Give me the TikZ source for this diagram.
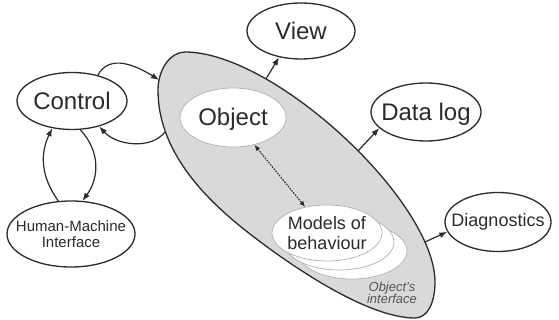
\documentclass[tikz,border=0pt]{standalone}
\usepackage{fontspec}
\setmainfont{Liberation Sans}
\usetikzlibrary{shapes.geometric,arrows.meta}
\definecolor{ink}{HTML}{2B2B2B}
\definecolor{shade}{HTML}{D9D9D9}
\definecolor{rim}{HTML}{B0B0B0}
\definecolor{note}{HTML}{555555}
\begin{document}
\begin{tikzpicture}[x=1pt,y=-1pt,
  oval/.style={ellipse,draw=ink,line width=1.3pt,fill=white,inner sep=0pt},
  inoval/.style={ellipse,draw=rim,line width=0.7pt,fill=white,inner sep=0pt},
  big/.style={label={[font=\fontsize{24}{26}\selectfont,text=ink,text height=17pt,text depth=0pt]center:#1}},
  mid/.style={label={[font=\fontsize{18}{20}\selectfont,text=ink,align=center]center:#1}},
  small/.style={label={[font=\fontsize{15}{16.5}\selectfont,text=ink,align=center]center:#1}},
  conn/.style={draw=ink,line width=1.2pt,-{Latex[length=8pt,width=6pt]}},
  dots/.style={draw=ink,line width=1.1pt,dash pattern=on 1.6pt off 1.2pt,{Latex[length=6pt,width=5pt]}-{Latex[length=6pt,width=5pt]}},
]
\useasboundingbox (0,0) rectangle (559,320);
\fill[white] (0,0) rectangle (559,320);
% object's interface shape
\draw[fill=shade,draw=ink,line width=1.3pt]
  (158,90) .. controls (158,70) and (170,52) .. (185,52)
  .. controls (275,52) and (435,202) .. (435,282)
  .. controls (435,302) and (428,318) .. (415,318)
  .. controls (365,318) and (285.5,261.5) .. (250,234)
  .. controls (202.6,197.4) and (158,150) .. (158,90) -- cycle;
\coordinate (bin) at (159,80);
\coordinate (bout) at (165,132);
\coordinate (bview) at (266,79);
\coordinate (blog) at (358,151);
\coordinate (bdiag) at (425,242);
% inner ellipses
\node[inoval,minimum width=106pt,minimum height=59pt,big=Object] (obj) at (233,117.5) {};
\node[inoval,minimum width=110pt,minimum height=56pt] (mod3) at (352,251) {};
\node[inoval,minimum width=110pt,minimum height=56pt] (mod2) at (339,242) {};
\node[inoval,minimum width=110pt,minimum height=56pt,mid={Models of\\behaviour}] (mod) at (327,233) {};
\node[font=\itshape\fontsize{13}{12.5}\selectfont,text=note,align=center] (oi) at (392,293) {Object's\\interface};
% outer nodes
\node[oval,minimum width=110pt,minimum height=57pt,big=Control] (ctl) at (72,101) {};
\node[oval,minimum width=108pt,minimum height=56pt,big=View] (view) at (301,31) {};
\node[oval,minimum width=110pt,minimum height=58pt,big={Data log}] (dlog) at (426,112) {};
\node[oval,minimum width=106pt,minimum height=59pt,mid=Diagnostics] (diag) at (498,222) {};
\node[oval,minimum width=128pt,minimum height=66pt,small={Human-Machine\\Interface}] (hmi) at (71,234) {};
% connectors
\draw[conn] (ctl.45) .. controls +(12,-22) and +(-22,-14) .. (bin);
\draw[conn] (bout) .. controls +(-14,18) and +(17,19) .. (ctl.-43);
\draw[conn] (hmi.111) .. controls +(-18,-25) and +(-12,25) .. (ctl.-126);
\draw[conn] (ctl.-74) .. controls +(20,21) and +(17,-23) .. (hmi.71);
\draw[conn] (bview) -- (view.-130);
\draw[conn] (blog) -- (dlog.199);
\draw[conn] (bdiag) -- (diag.191);
\draw[dots] (obj.-52) -- (mod.130);
\end{tikzpicture}
\end{document}
